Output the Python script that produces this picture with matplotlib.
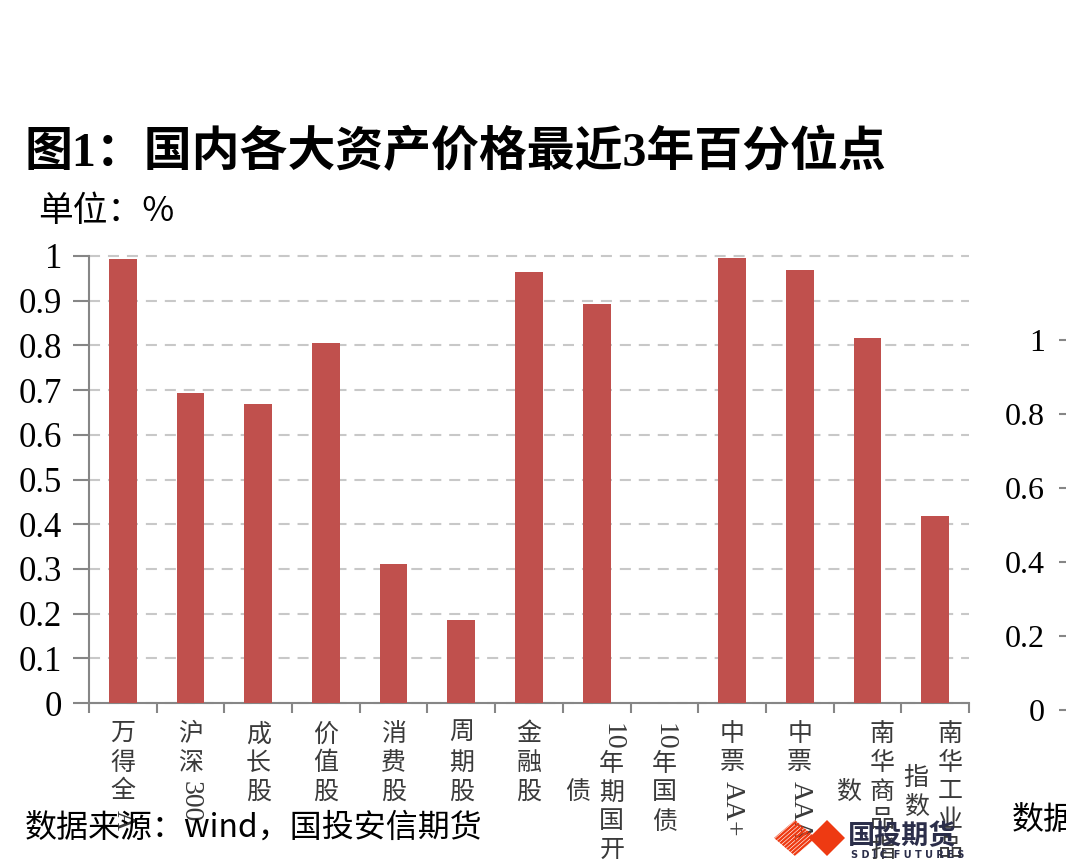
import numpy as np
import matplotlib
matplotlib.use('Agg')
import matplotlib.pyplot as plt
from matplotlib.patches import Polygon

plt.rcParams['font.family'] = ['Liberation Serif', 'Noto Sans CJK SC', 'DejaVu Sans']

categories = ['万得全A', '沪深300', '成长股', '价值股', '消费股', '周期股', '金融股',
              '10年期国开债', '10年国债', '中票AA+', '中票AAA', '南华商品指数', '南华工业品指数']
percentiles = [0.994, 0.694, 0.669, 0.805, 0.311, 0.186, 0.964,
               0.892, 0.0, 0.996, 0.968, 0.817, 0.418]
y_ticks = [0, 0.1, 0.2, 0.3, 0.4, 0.5, 0.6, 0.7, 0.8, 0.9, 1]
right_ticks = [0, 0.2, 0.4, 0.6, 0.8, 1]

title = '图1：国内各大资产价格最近3年百分位点'
unit = '单位：%'
source = '数据来源：wind，国投安信期货'

BAR = '#c0504d'
AXC = '#868686'
SANS = ['Noto Sans CJK SC', 'DejaVu Sans']
MIX = ['Liberation Serif', 'Noto Sans CJK SC']

W, H = 1066, 860
fig = plt.figure(figsize=(W / 100, H / 100), dpi=100)
fig.patch.set_facecolor('white')


def split_tokens(s):
    tokens, buf = [], ''
    for ch in s:
        if ord(ch) < 128:
            buf += ch
        else:
            if buf:
                tokens.append(buf)
                buf = ''
            tokens.append(ch)
    if buf:
        tokens.append(buf)
    return tokens


# main chart
ax = fig.add_axes([89 / W, (H - 703) / H, 880 / W, 447 / H])
x = np.arange(len(categories)) + 0.5
ax.bar(x, percentiles, width=0.41, color=BAR, zorder=3)
ax.set_xlim(0, len(categories))
ax.set_ylim(0, 1)
ax.set_yticks(y_ticks)
ax.set_yticklabels(['{:g}'.format(v) for v in y_ticks], fontsize=25,
                   family='Liberation Serif')
ax.set_xticks(np.arange(len(categories) + 1))
ax.set_xticklabels([])
ax.tick_params(axis='y', length=11.5, width=1.5, color=AXC, pad=8)
ax.tick_params(axis='x', length=7.2, width=1.5, color=AXC)
for s in ['top', 'right']:
    ax.spines[s].set_visible(False)
for s in ['left', 'bottom']:
    ax.spines[s].set_color(AXC)
    ax.spines[s].set_linewidth(1.5)
ax.set_axisbelow(True)
ax.yaxis.grid(True, color='#c8c8c8', linewidth=1.5, linestyle=(0, (5.3, 3.8)))
for gl in ax.get_ygridlines():
    gl.set_clip_on(False)

# vertical category labels
renderer = fig.canvas.get_renderer()
CJK_PITCH = 29
for xc, name in zip(x, categories):
    toks = split_tokens(name)
    cols = [toks[i:i + 5] for i in range(0, len(toks), 5)]
    offs = [0] if len(cols) == 1 else [15, -19]
    col_items = []
    for col in cols:
        items = []
        for t in col:
            if ord(t[0]) < 128:
                a = ax.annotate(t, xy=(xc, 0), xycoords=('data', 'axes fraction'),
                                xytext=(0, 0), textcoords='offset pixels',
                                rotation=270, ha='center', va='top',
                                fontsize=20, family=MIX, color='#3a3a3a')
                h = a.get_window_extent(renderer).height + 2
            else:
                a = ax.annotate(t, xy=(xc, 0), xycoords=('data', 'axes fraction'),
                                xytext=(0, 0), textcoords='offset pixels',
                                ha='center', va='top',
                                fontsize=18, family=MIX, color='#3a3a3a')
                h = CJK_PITCH
            items.append((a, h))
        col_items.append(items)
    heights = [sum(h for _, h in items) for items in col_items]
    top0 = -20
    for ci, items in enumerate(col_items):
        y0 = top0 if ci == 0 else top0 - (heights[0] - heights[ci]) / 2
        for a, h in items:
            a.xyann = (offs[ci], y0)
            y0 -= h

# partially visible neighbouring chart on the right
ax2 = fig.add_axes([1067 / W, (H - 710) / H, 0.1, 370 / H])
ax2.set_ylim(0, 1)
ax2.set_yticks(right_ticks)
ax2.set_yticklabels(['{:g}'.format(v) for v in right_ticks], fontsize=23,
                    family='Liberation Serif')
ax2.set_xticks([])
ax2.tick_params(axis='y', length=5.8, width=1.5, color=AXC, pad=10)
for s in ax2.spines.values():
    s.set_visible(False)
ax2.patch.set_visible(False)

# texts
fig.text(25 / W, 1 - 153 / H, title, fontsize=34.5, fontweight='bold',
         family=MIX, va='center', ha='left')
fig.text(38 / W, 1 - 212 / H, unit, fontsize=25, family=SANS,
         va='center', ha='left')
fig.text(25 / W, 1 - 828 / H, source, fontsize=23, family=SANS,
         va='center', ha='left')
fig.text(1012 / W, 1 - 820 / H, '数据', fontsize=23, family=SANS,
         va='center', ha='left')

# logo
ov = fig.add_axes([0, 0, 1, 1], zorder=10)
ov.set_xlim(0, W)
ov.set_ylim(H, 0)
ov.axis('off')
ov.patch.set_visible(False)
LOGO = '#ee3a12'
striped = Polygon([(774, 838), (795, 820), (816, 838), (795, 856)],
                  closed=True, facecolor='none', edgecolor='none')
ov.add_patch(striped)
for k in np.arange(-40, 45, 4.5):
    ln, = ov.plot([770 + k, 820 + k], [860, 816], color=LOGO, lw=1.7,
                  solid_capstyle='butt')
    ln.set_clip_path(striped)
ov.add_patch(Polygon([(809, 838), (827, 820), (845, 838), (827, 856)],
                     closed=True, facecolor=LOGO, edgecolor='none'))
ov.text(848, 836, '国投期货', fontsize=19.5, fontweight='bold', family=SANS,
        color='#2b2e4a', va='center', ha='left')
ov.text(851, 855, 'S D I C  F U T U R E S', fontsize=7, fontweight='bold',
        family='DejaVu Sans', color='#2b2e4a', va='center', ha='left')

fig.savefig('out.png', dpi=100, facecolor='white')
